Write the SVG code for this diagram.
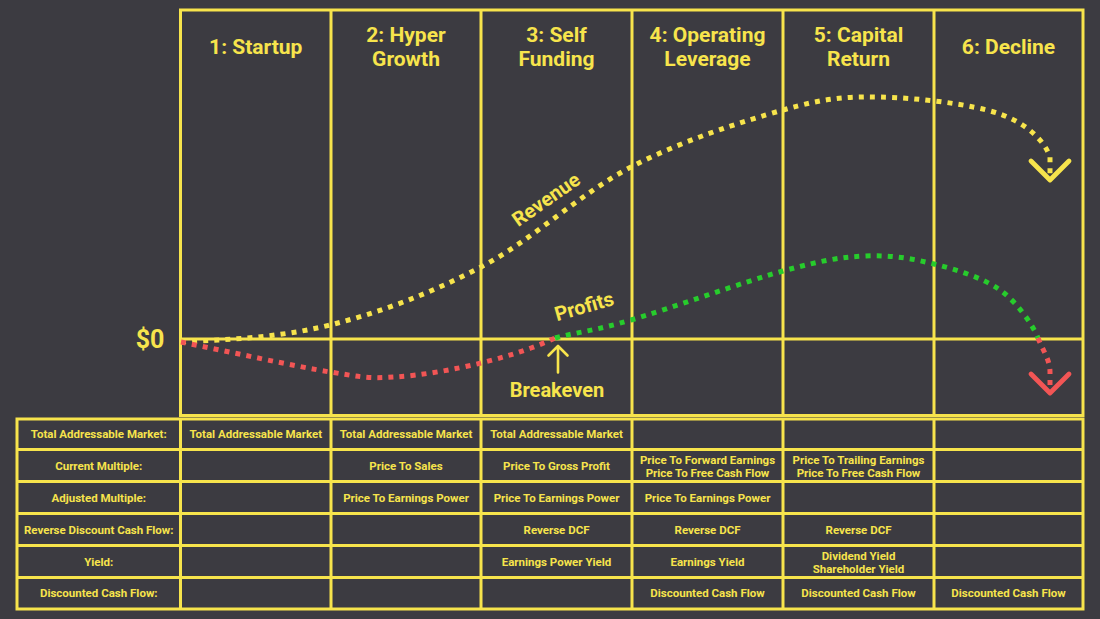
<svg xmlns="http://www.w3.org/2000/svg" width="1100" height="619" viewBox="0 0 1100 619">
<style>
  .bg{fill:#3c3b41}
  .grid{fill:none;stroke:#f7e44c;stroke-width:3}
  .hdr{font-family:Roboto,"Liberation Sans",sans-serif;font-weight:700;font-size:21px;fill:#f7e44c;text-anchor:middle}
  .cell{font-family:Roboto,"Liberation Sans",sans-serif;font-weight:700;font-size:11.5px;fill:#f7e44c;text-anchor:middle}
  .lbl{font-family:Roboto,"Liberation Sans",sans-serif;font-weight:700;font-size:20px;fill:#f7e44c;text-anchor:middle}
  .dot{fill:none;stroke-width:5;stroke-dasharray:5 6.1;stroke-linecap:butt}
  .rev{stroke:#f7e44c}
  .pro{stroke:#27cc2c}
  .neg{stroke:#f25555}
</style>
<defs>
  <marker id="chevY" markerUnits="userSpaceOnUse" viewBox="-24 -24 30 48" markerWidth="30" markerHeight="48" refX="0" refY="0" orient="auto" overflow="visible">
    <path d="M -19 -19 L 0 0 L -19 19" fill="none" stroke="#f7e44c" stroke-width="4.8" stroke-linecap="round" stroke-linejoin="round" stroke-dasharray="none"/>
  </marker>
  <marker id="chevR" markerUnits="userSpaceOnUse" viewBox="-24 -24 30 48" markerWidth="30" markerHeight="48" refX="0" refY="0" orient="auto" overflow="visible">
    <path d="M -19 -19 L 0 0 L -19 19" fill="none" stroke="#f25555" stroke-width="4.8" stroke-linecap="round" stroke-linejoin="round" stroke-dasharray="none"/>
  </marker>
</defs>
<rect class="bg" x="0" y="0" width="1100" height="619"/>

<g id="chart-grid">
  <rect class="grid" x="180.5" y="10" width="902.5" height="405.5"/>
  <path class="grid" d="M331 10 V415.5 M481 10 V415.5 M632 10 V415.5 M783 10 V415.5 M934 10 V415.5 M180.5 339 H1083"/>
</g>

<g id="stage-1"><text class="hdr" x="255.75" y="54">1: Startup</text></g>
<g id="stage-2"><text class="hdr" x="406" y="42">2: Hyper</text><text class="hdr" x="406" y="66">Growth</text></g>
<g id="stage-3"><text class="hdr" x="556.5" y="42">3: Self</text><text class="hdr" x="556.5" y="66">Funding</text></g>
<g id="stage-4"><text class="hdr" x="707.5" y="42">4: Operating</text><text class="hdr" x="707.5" y="66">Leverage</text></g>
<g id="stage-5"><text class="hdr" x="858.5" y="42">5: Capital</text><text class="hdr" x="858.5" y="66">Return</text></g>
<g id="stage-6"><text class="hdr" x="1008.5" y="54">6: Decline</text></g>

<g id="zero-label"><text class="lbl" x="150" y="348" style="font-size:25px">$0</text></g>

<g id="connectors">
  <path id="revenue" class="dot rev" marker-end="url(#chevY)" d="M181 342 C230.7 339.3 280 337.5 330 325 C380 312.5 430.8 293.3 481 267 C531.2 240.7 580.7 193.2 631 167 C681.3 140.8 741.5 121.7 783 110 C824.5 98.3 843.8 96.3 880 97 C916.2 97.7 971.7 104 1000 114 C1028.3 124 1045 142 1050 157 L1050 180"/>
  <path id="loss" class="dot neg" d="M181 342 C230.7 352 294.3 366.2 330 372 C365.7 377.8 369.8 378.5 395 377 C420.2 375.5 454.8 369.5 481 363 C507.2 356.5 531.3 349 555 338"/>
  <path id="profit" class="dot pro" d="M555 338 C581 331.3 593 331.2 631 320 C669.5 308.8 744 281.7 783 271 C822 260.3 839.8 257.2 865 256 C890.2 254.8 911.5 258.3 934 264 C956.5 269.7 982.7 277.7 1000 290 C1017.3 302.3 1032.7 324.7 1038 338"/>
  <path id="decline-loss" class="dot neg" marker-end="url(#chevR)" d="M1038 338 C1043.3 351.3 1050 360 1050 372 L1050 393"/>
  <path id="breakeven-arrow" d="M558 372.5 V346 M548.5 355.5 L558 346 L567.5 355.5" fill="none" stroke="#f7e44c" stroke-width="2.6" stroke-linecap="round" stroke-linejoin="round"/>
</g>

<g id="revenue-label"><text class="lbl" x="550" y="205" transform="rotate(-35 550 205)">Revenue</text></g>
<g id="profits-label"><text class="lbl" x="586" y="313" transform="rotate(-16 586 313)">Profits</text></g>
<g id="breakeven-label"><text class="lbl" x="557" y="397">Breakeven</text></g>

<g id="table-grid">
  <rect class="grid" x="17" y="419" width="1066" height="190"/>
  <path class="grid" d="M180.5 419 V609 M331 419 V609 M481 419 V609 M632 419 V609 M783 419 V609 M934 419 V609 M17 449.5 H1083 M17 481.5 H1083 M17 513.5 H1083 M17 545.5 H1083 M17 577.5 H1083"/>
</g>

<g id="row-tam">
  <text class="cell" x="98.75" y="438">Total Addressable Market:</text>
  <text class="cell" x="255.75" y="438">Total Addressable Market</text>
  <text class="cell" x="406" y="438">Total Addressable Market</text>
  <text class="cell" x="556.5" y="438">Total Addressable Market</text>
</g>
<g id="row-current-multiple">
  <text class="cell" x="98.75" y="469.5">Current Multiple:</text>
  <text class="cell" x="406" y="469.5">Price To Sales</text>
  <text class="cell" x="556.5" y="469.5">Price To Gross Profit</text>
  <text class="cell" x="707.5" y="463.5">Price To Forward Earnings</text>
  <text class="cell" x="707.5" y="476.5">Price To Free Cash Flow</text>
  <text class="cell" x="858.5" y="463.5">Price To Trailing Earnings</text>
  <text class="cell" x="858.5" y="476.5">Price To Free Cash Flow</text>
</g>
<g id="row-adjusted-multiple">
  <text class="cell" x="98.75" y="501.5">Adjusted Multiple:</text>
  <text class="cell" x="406" y="501.5">Price To Earnings Power</text>
  <text class="cell" x="556.5" y="501.5">Price To Earnings Power</text>
  <text class="cell" x="707.5" y="501.5">Price To Earnings Power</text>
</g>
<g id="row-reverse-dcf">
  <text class="cell" x="98.75" y="533.5">Reverse Discount Cash Flow:</text>
  <text class="cell" x="556.5" y="533.5">Reverse DCF</text>
  <text class="cell" x="707.5" y="533.5">Reverse DCF</text>
  <text class="cell" x="858.5" y="533.5">Reverse DCF</text>
</g>
<g id="row-yield">
  <text class="cell" x="98.75" y="565.5">Yield:</text>
  <text class="cell" x="556.5" y="565.5">Earnings Power Yield</text>
  <text class="cell" x="707.5" y="565.5">Earnings Yield</text>
  <text class="cell" x="858.5" y="559.5">Dividend Yield</text>
  <text class="cell" x="858.5" y="572.5">Shareholder Yield</text>
</g>
<g id="row-dcf">
  <text class="cell" x="98.75" y="597">Discounted Cash Flow:</text>
  <text class="cell" x="707.5" y="597">Discounted Cash Flow</text>
  <text class="cell" x="858.5" y="597">Discounted Cash Flow</text>
  <text class="cell" x="1008.5" y="597">Discounted Cash Flow</text>
</g>
</svg>
